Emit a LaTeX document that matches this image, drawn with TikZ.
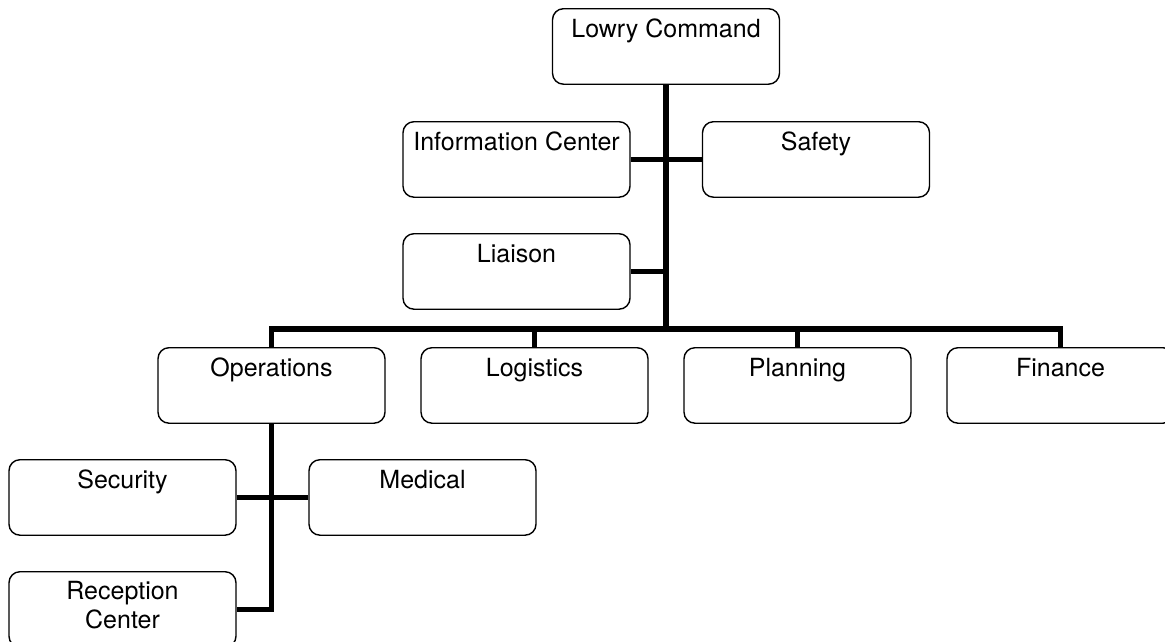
\documentclass[tikz,border=0pt]{standalone}
\usepackage{fontspec}
\setmainfont{TeX Gyre Heros}
\begin{document}
\begin{tikzpicture}[x=1pt,y=-1pt,
  unit/.style={draw=black, line width=1.4pt, rounded corners=11pt,
    anchor=north, minimum width=227pt, inner xsep=0pt, inner ysep=0pt,
    text height=28.5pt, text depth=47pt, align=center,
    font=\fontsize{25}{29}\selectfont},
  twoline/.style={text height=56.5pt, text depth=19pt},
  link/.style={line width=5.5pt, line join=miter}]
\useasboundingbox (0,0) rectangle (1165,641);

% command level
\node[unit] (lowry) at (666,8) {Lowry Command};
\node[unit] (info) at (516.5,121) {Information Center};
\node[unit] (safety) at (816,121) {Safety};
\node[unit] (liaison) at (516.5,233) {Liaison};

% sections
\node[unit] (ops) at (271.5,347) {Operations};
\node[unit] (log) at (534.5,347) {Logistics};
\node[unit] (plan) at (797.5,347) {Planning};
\node[unit] (fin) at (1060.5,347) {Finance};

% operations branches
\node[unit] (sec) at (122.5,459) {Security};
\node[unit] (med) at (422.5,459) {Medical};
\node[unit, twoline] (rec) at (122.5,571) {Reception\\Center};

\coordinate (bus) at (666,329);

% connectors
\draw[link] (lowry.south) -- (bus);
\draw[link] (info.east) -- (safety.west);
\draw[link] (liaison.east) -- (liaison.east -| lowry.south);
\draw[link] (ops.north) |- (bus) -| (fin.north);
\draw[link] (log.north) -- (log.north |- bus);
\draw[link] (plan.north) -- (plan.north |- bus);
\draw[link] (ops.south) |- (rec.east);
\draw[link] (sec.east) -- (med.west);
\end{tikzpicture}
\end{document}
